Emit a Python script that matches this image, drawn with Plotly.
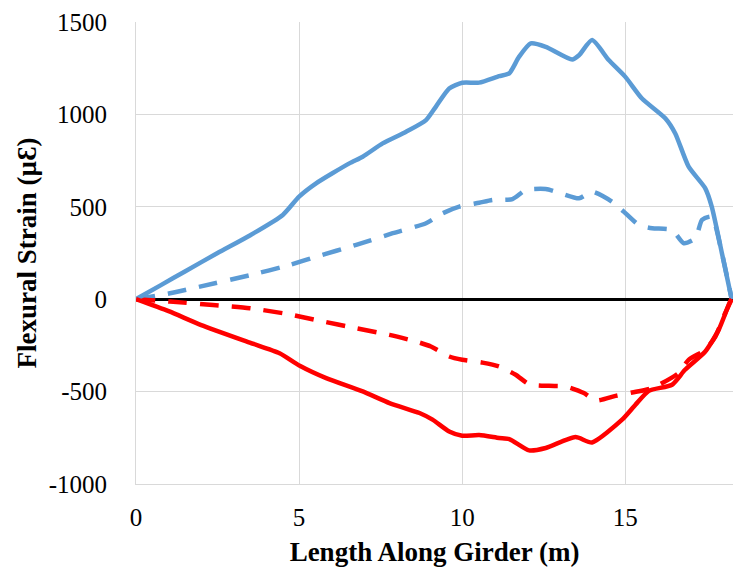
import plotly.graph_objects as go

# Strain profiles along the girder (x in m, strain in microstrain)
x_top_solid = [0, 0.75, 1.5, 2.5, 3.49, 4.5, 5.0, 5.52, 6.54, 6.95, 7.56, 8.28, 8.89, 9.19,
               9.6, 10.0, 10.52, 11.13, 11.44, 11.74, 12.1, 12.56, 13.37, 13.58, 13.98,
               14.49, 15.0, 15.51, 16.23, 16.53, 16.94, 17.45, 17.65, 17.96, 18.26]
y_top_solid = [0, 75, 150, 250, 345, 456, 555, 627, 735, 771, 843, 906, 969, 1041,
               1140, 1171, 1172, 1207, 1222, 1311, 1384, 1366, 1297, 1320, 1402,
               1294, 1203, 1086, 978, 897, 717, 600, 500, 249, 0]

x_top_dash = [0, 1.04, 1.96, 3.49, 4.71, 5.52, 6.75, 7.87, 8.89, 9.4, 9.91, 10.52, 10.93,
              11.54, 11.95, 12.56, 13.02, 13.58, 13.98, 14.59, 14.95, 15.41, 15.82,
              16.43, 16.79, 17.15, 17.35, 17.65, 17.96, 18.26]
y_top_dash = [0, 32, 68, 130, 185, 230, 294, 357, 411, 465, 501, 522, 537,
              542, 591, 596, 573, 546, 582, 528, 474, 402, 384,
              375, 303, 330, 429, 447, 249, 0]

x_bot_solid = [0, 1.0, 2.0, 3.49, 4.4, 5.02, 5.83, 6.95, 7.77, 8.69, 9.09, 9.6, 10.0,
               10.52, 11.13, 11.44, 12.05, 12.56, 13.47, 13.98, 14.9, 15.31, 15.72,
               16.43, 16.83, 17.45, 17.86, 18.21, 18.26]
y_bot_solid = [0, -65, -140, -235, -292, -360, -427, -499, -562, -616, -652, -716, -739,
               -735, -751, -757, -818, -805, -746, -775, -652, -571, -496,
               -463, -382, -283, -166, -13, 0]

x_bot_dash = [0, 1.04, 2.36, 3.49, 4.61, 5.63, 6.75, 7.77, 8.58, 9.04, 9.6, 10.0, 10.62,
              11.13, 11.64, 12.05, 12.66, 13.17, 13.73, 14.09, 14.7, 15.21, 15.82,
              16.63, 16.94, 17.45, 17.76, 18.06, 18.26]
y_bot_dash = [0, -13, -31, -49, -79, -117, -157, -193, -229, -256, -310, -328, -343,
              -364, -409, -460, -469, -472, -508, -548, -523, -505, -481,
              -400, -328, -274, -202, -76, 0]

x_ticks = [0, 5, 10, 15]
y_ticks = [-1000, -500, 0, 500, 1000, 1500]

BLUE = "#5B9BD5"
RED = "#FF0000"
DASH = "19px,13px"
W = 4.5

fig = go.Figure()
for xs, ys, col, dash in [
    (x_top_dash, y_top_dash, BLUE, DASH),
    (x_bot_dash, y_bot_dash, RED, DASH),
    (x_top_solid, y_top_solid, BLUE, "solid"),
    (x_bot_solid, y_bot_solid, RED, "solid"),
]:
    fig.add_trace(go.Scatter(
        x=xs, y=ys, mode="lines",
        line=dict(color=col, width=W, dash=dash, shape="spline", smoothing=0.6),
        showlegend=False, hoverinfo="skip",
    ))

SERIF = "Liberation Serif"
tick_font = dict(family=SERIF, size=25, color="black")
title_font = dict(family=SERIF, size=27, color="black")
fig.update_layout(
    width=734, height=573,
    margin=dict(l=136, r=1, t=22, b=89),
    paper_bgcolor="white", plot_bgcolor="white",
    font=dict(family=SERIF, size=25, color="black"),
    xaxis=dict(
        range=[0, 18.3], tickmode="array", tickvals=x_ticks,
        ticktext=[str(v) for v in x_ticks], tickfont=tick_font,
        showgrid=True, gridcolor="#d9d9d9", gridwidth=1,
        showline=True, linecolor="#d9d9d9", linewidth=1,
        zeroline=False, ticks="", ticklabelstandoff=11,
        title=dict(text="<b>Length Along Girder (m)</b>", font=title_font, standoff=12),
    ),
    yaxis=dict(
        range=[-1000, 1500], tickmode="array", tickvals=y_ticks,
        ticktext=[str(v) for v in y_ticks], tickfont=tick_font,
        showgrid=True, gridcolor="#d9d9d9", gridwidth=1,
        showline=True, linecolor="#d9d9d9", linewidth=1,
        zeroline=True, zerolinecolor="black", zerolinewidth=2.5,
        ticks="", ticklabelstandoff=23,
        title=dict(text="<b>Flexural Strain (µƐ)</b>", font=title_font, standoff=4),
    ),
)

fig.write_html("out.html")
